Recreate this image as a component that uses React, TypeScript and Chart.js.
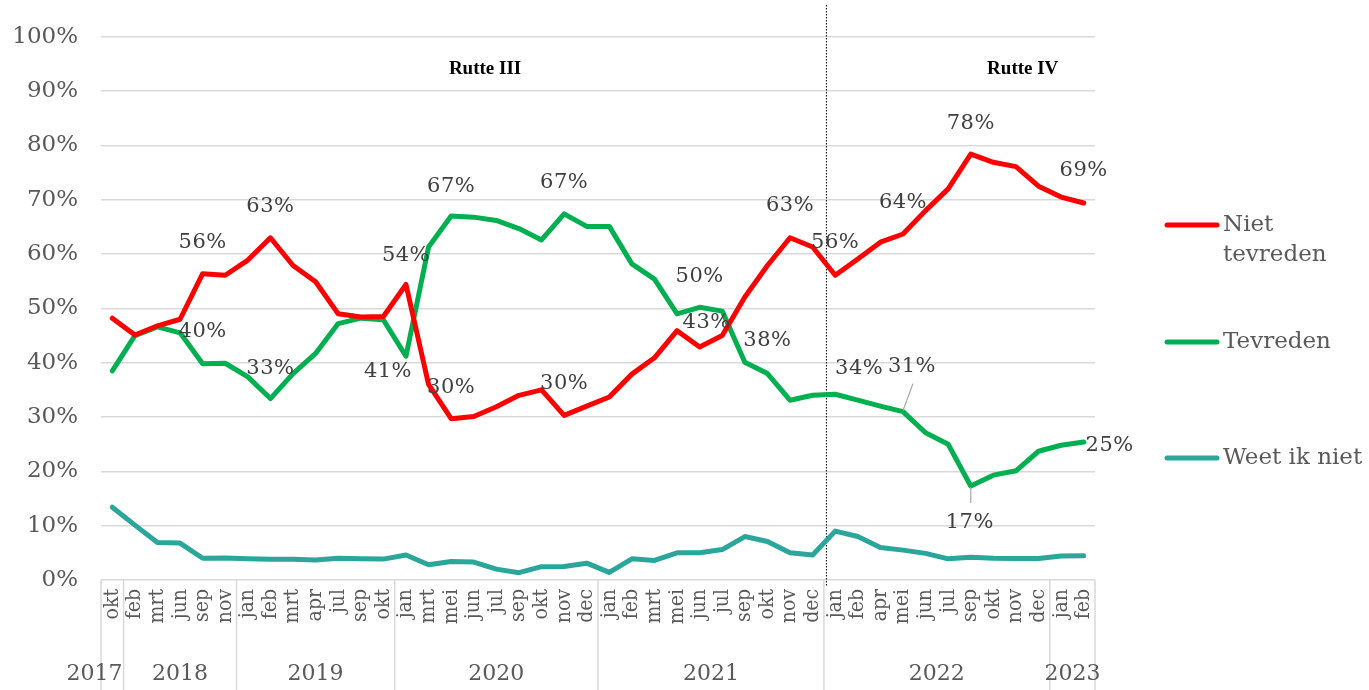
import React, { useEffect, useRef } from 'react';
import { Chart, registerables } from 'chart.js';

Chart.register(...registerables);

const months = [
  'okt',
  'feb', 'mrt', 'jun', 'sep', 'nov',
  'jan', 'feb', 'mrt', 'apr', 'jul', 'sep', 'okt',
  'jan', 'mrt', 'mei', 'jun', 'jul', 'sep', 'okt', 'nov', 'dec',
  'jan', 'feb', 'mrt', 'mei', 'jun', 'jul', 'sep', 'okt', 'nov', 'dec',
  'jan', 'feb', 'apr', 'mei', 'jun', 'jul', 'sep', 'okt', 'nov', 'dec',
  'jan', 'feb',
];
const yearLabels = ['2017', '2018', '2019', '2020', '2021', '2022', '2023'];
const yearCounts = [1, 5, 7, 9, 10, 10, 2];

const nietTevreden = [
  48.2, 45.1, 46.8, 48.0, 56.4, 56.1, 58.9, 63.0, 57.9, 54.9, 49.0, 48.4, 48.5,
  54.4, 36.0, 29.7, 30.1, 31.9, 34.0, 35.0, 30.3, 32.0,
  33.7, 37.9, 40.9, 45.9, 42.9, 45.0, 52.1, 57.9, 63.0, 61.3,
  56.1, 59.1, 62.2, 63.7, 68.0, 72.0, 78.4, 76.9, 76.1, 72.5,
  70.5, 69.4,
];
const tevreden = [
  38.5, 45.0, 46.6, 45.5, 39.8, 39.9, 37.4, 33.4, 38.0, 41.7, 47.2, 48.2, 47.9,
  41.2, 61.3, 67.0, 66.8, 66.2, 64.7, 62.6, 67.4, 65.1,
  65.1, 58.2, 55.4, 49.0, 50.2, 49.5, 40.1, 38.0, 33.1, 34.0,
  34.2, 33.1, 32.0, 31.0, 27.1, 25.0, 17.3, 19.3, 20.1, 23.7,
  24.8, 25.4,
];
const weetIkNiet = [
  13.4, 10.1, 6.9, 6.8, 4.0, 4.05, 3.9, 3.8, 3.8, 3.7, 4.0, 3.9, 3.85,
  4.6, 2.8, 3.4, 3.3, 2.0, 1.35, 2.45, 2.5, 3.1,
  1.4, 3.9, 3.6, 5.0, 5.0, 5.6, 8.0, 7.1, 5.0, 4.6,
  9.0, 8.0, 6.0, 5.5, 4.9, 3.9, 4.2, 4.0, 3.95, 3.95,
  4.4, 4.45,
];

const seriesNames = ['Niet tevreden', 'Tevreden', 'Weet ik niet'];
const legendLines = [['Niet', 'tevreden'], ['Tevreden'], ['Weet ik niet']];
const seriesColors = ['#FF0000', '#00B050', '#2BA69B'];
const cabinetNames = ['Rutte III', 'Rutte IV'];
const cabinetSwitchIndex = 32;

// data label placement (offsets from the point, in px)
const labelSpecs = [
  { ds: 0, i: 4, dx: 0, dy: -31 },
  { ds: 0, i: 7, dx: 0, dy: -31 },
  { ds: 0, i: 13, dx: 0, dy: -29 },
  { ds: 0, i: 15, dx: 0, dy: -31 },
  { ds: 0, i: 20, dx: 0, dy: -32 },
  { ds: 0, i: 26, dx: 7, dy: -24 },
  { ds: 0, i: 30, dx: 0, dy: -32 },
  { ds: 0, i: 32, dx: 0, dy: -33 },
  { ds: 0, i: 35, dx: 0, dy: -31 },
  { ds: 0, i: 38, dx: 0, dy: -31 },
  { ds: 0, i: 43, dx: 0, dy: -32 },
  { ds: 1, i: 4, dx: 0, dy: -32 },
  { ds: 1, i: 7, dx: 0, dy: -30 },
  { ds: 1, i: 13, dx: -18, dy: 15 },
  { ds: 1, i: 15, dx: 0, dy: -30 },
  { ds: 1, i: 20, dx: 0, dy: -31 },
  { ds: 1, i: 26, dx: 0, dy: -31 },
  { ds: 1, i: 29, dx: 0, dy: -33 },
  { ds: 1, i: 32, dx: 24, dy: -26 },
  { ds: 1, i: 35, dx: 9, dy: -45, leader: [0, -1, 10, -28] },
  { ds: 1, i: 38, dx: -1, dy: 37, leader: [0, 1, 0, 17] },
  { ds: 1, i: 43, dx: 26, dy: 4 },
];

const SERIF = '"DejaVu Serif", "Liberation Serif", serif';
const SERIF_COND = '"DejaVu Serif Condensed", "DejaVu Serif", serif';
const TEXT_GRAY = '#595959';

const overlay = {
  id: 'overlay',
  beforeDatasetsDraw(chart: any) {
    const { ctx, chartArea } = chart;
    const xs = chart.scales.x;
    const step = xs.getPixelForValue(1) - xs.getPixelForValue(0);
    const bx = xs.getPixelForValue(cabinetSwitchIndex) - step / 2 + 2;
    ctx.save();
    ctx.strokeStyle = '#000';
    ctx.lineWidth = 1;
    ctx.setLineDash([1.5, 1.5]);
    ctx.beginPath();
    ctx.moveTo(bx + 0.5, 5);
    ctx.lineTo(bx + 0.5, chartArea.bottom + 7);
    ctx.stroke();
    ctx.restore();
  },
  afterDatasetsDraw(chart: any) {
    const { ctx, chartArea } = chart;
    const xs = chart.scales.x;
    const ys = chart.scales.y;
    const step = xs.getPixelForValue(1) - xs.getPixelForValue(0);
    ctx.save();

    // year separators and labels
    ctx.strokeStyle = '#d9d9d9';
    ctx.lineWidth = 1.5;
    ctx.fillStyle = TEXT_GRAY;
    ctx.font = `22px ${SERIF}`;
    ctx.textAlign = 'center';
    ctx.textBaseline = 'middle';
    let start = 0;
    const bottom = chart.height;
    yearLabels.forEach((yl, gi) => {
      const left = xs.getPixelForValue(start) - step / 2;
      const right = xs.getPixelForValue(start + yearCounts[gi] - 1) + step / 2;
      ctx.beginPath();
      ctx.moveTo(left, chartArea.bottom);
      ctx.lineTo(left, bottom);
      ctx.stroke();
      if (gi === yearLabels.length - 1) {
        ctx.beginPath();
        ctx.moveTo(right, chartArea.bottom);
        ctx.lineTo(right, bottom);
        ctx.stroke();
      }
      const w = ctx.measureText(yl).width;
      let cx = (left + right) / 2;
      if (gi === 0) cx = Math.min(cx, right - w / 2 - 1);
      ctx.fillText(yl, cx, 674);
      start += yearCounts[gi];
    });

    // cabinet labels
    ctx.fillStyle = '#000';
    ctx.font = `bold 19px "Liberation Serif", serif`;
    const cy = ys.getPixelForValue(94);
    ctx.fillText(cabinetNames[0], xs.getPixelForValue(16) + step / 2, cy);
    ctx.fillText(cabinetNames[1], xs.getPixelForValue(40) + step * 0.3, cy);

    // data labels
    const all = [nietTevreden, tevreden, weetIkNiet];
    ctx.font = `21px ${SERIF}`;
    (ctx as any).letterSpacing = '0.5px';
    ctx.fillStyle = '#404040';
    labelSpecs.forEach((s) => {
      const pt = chart.getDatasetMeta(s.ds).data[s.i];
      const v = all[s.ds][s.i];
      if (s.leader) {
        ctx.strokeStyle = '#a6a6a6';
        ctx.lineWidth = 1.2;
        ctx.beginPath();
        ctx.moveTo(pt.x + s.leader[0], pt.y + s.leader[1]);
        ctx.lineTo(pt.x + s.leader[2], pt.y + s.leader[3]);
        ctx.stroke();
      }
      ctx.fillText(Math.round(v) + '%', pt.x + s.dx, pt.y + s.dy);
    });
    (ctx as any).letterSpacing = '0px';

    // legend
    const legendYs = [225, 342, 458];
    ctx.font = `23px ${SERIF}`;
    ctx.textAlign = 'left';
    ctx.lineCap = 'round';
    legendLines.forEach((lines, k) => {
      ctx.strokeStyle = seriesColors[k];
      ctx.lineWidth = 5;
      ctx.beginPath();
      ctx.moveTo(1167, legendYs[k]);
      ctx.lineTo(1217, legendYs[k]);
      ctx.stroke();
      ctx.fillStyle = TEXT_GRAY;
      lines.forEach((ln, j) => ctx.fillText(ln, 1223, legendYs[k] + j * 30));
    });

    ctx.restore();
  },
};

export default function App() {
  const ref = useRef<HTMLCanvasElement>(null);
  useEffect(() => {
    const canvas = ref.current!;
    const mk = (idx: number, data: number[]) => ({
      label: seriesNames[idx],
      data,
      borderColor: seriesColors[idx],
      backgroundColor: seriesColors[idx],
      borderWidth: 5,
      pointRadius: 0,
      pointHoverRadius: 0,
      tension: 0,
      fill: false,
      borderJoinStyle: 'round' as const,
      borderCapStyle: 'round' as const,
    });
    const chart = new Chart(canvas, {
      type: 'line',
      data: {
        labels: months,
        datasets: [mk(0, nietTevreden), mk(1, tevreden), mk(2, weetIkNiet)],
      },
      options: {
        responsive: false,
        animation: false,
        devicePixelRatio: 1,
        layout: { padding: { top: 35, right: 274, bottom: 0, left: 0 } },
        plugins: { legend: { display: false }, tooltip: { enabled: false } },
        scales: {
          x: {
            type: 'category',
            offset: true,
            grid: { display: false, drawTicks: false },
            border: { display: false },
            ticks: {
              autoSkip: false,
              maxRotation: 90,
              minRotation: 90,
              padding: 9,
              color: TEXT_GRAY,
              font: { family: SERIF_COND, size: 21 },
            },
            afterFit: (s: any) => {
              s.height = 110;
            },
          },
          y: {
            min: 0,
            max: 100,
            ticks: {
              stepSize: 10,
              callback: (v: any) => v + '%',
              padding: 23,
              color: TEXT_GRAY,
              font: { family: SERIF, size: 23 },
            },
            grid: { color: '#d9d9d9', lineWidth: 1.5, drawTicks: false },
            border: { display: false },
            afterFit: (s: any) => {
              s.width = 101;
            },
          },
        },
      },
      plugins: [overlay],
    });
    return () => chart.destroy();
  }, []);
  return (
    <div style={{ position: 'fixed', left: 0, top: 0, width: 1369, height: 690, background: '#fff' }}>
      <canvas ref={ref} width={1369} height={690} />
    </div>
  );
}
